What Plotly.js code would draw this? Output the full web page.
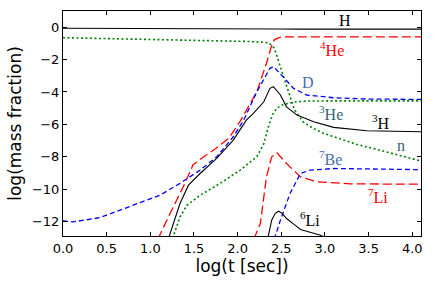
<!DOCTYPE html>
<html>
<head>
<meta charset="utf-8">
<script src="https://cdn.plot.ly/plotly-3.0.1.min.js"></script>
<style>html,body{margin:0;padding:0;background:#fff;}#chart{width:436px;height:285px;}</style>
</head>
<body>
<div id="chart"></div>
<script>
// log(t [sec]) and log(mass fraction)
var hX   = [0, 0.5, 1.0, 1.5, 2.0, 2.3, 2.4, 2.5, 2.7, 3.0, 3.5, 4.1];
var hY   = [-0.07, -0.07, -0.08, -0.08, -0.08, -0.08, -0.09, -0.11, -0.12, -0.12, -0.12, -0.12];

var nX   = [0, 0.5, 1.0, 1.5, 1.8, 2.1, 2.3, 2.36, 2.42, 2.49, 2.57, 2.65, 2.75, 2.85, 2.98, 3.17, 3.37, 3.63, 3.86, 4.1];
var nY   = [-0.65, -0.7, -0.75, -0.8, -0.85, -0.88, -0.93, -0.98, -1.3, -2.44, -3.88, -5.1, -5.85, -6.2, -6.55, -6.9, -7.25, -7.6, -7.95, -8.27];

var he3X = [1.255, 1.34, 1.42, 1.57, 1.8, 2.03, 2.22, 2.3, 2.35, 2.4, 2.45, 2.52, 2.65, 2.8, 3.2, 3.6, 4.1];
var he3Y = [-13.05, -11.72, -11.0, -10.38, -9.65, -8.83, -8.0, -7.2, -6.2, -5.4, -5.0, -4.78, -4.62, -4.56, -4.55, -4.55, -4.55];

var he4X = [1.09, 1.104, 1.226, 1.377, 1.49, 1.6, 1.75, 1.9, 2.03, 2.12, 2.22, 2.33, 2.38, 2.42, 2.47, 2.55, 2.7, 4.1];
var he4Y = [-13.1, -12.9, -11.51, -9.86, -8.5, -8.05, -7.5, -6.85, -5.8, -4.95, -3.99, -2.23, -1.3, -0.78, -0.65, -0.6, -0.6, -0.6];

var dX   = [0, 0.115, 0.42, 0.65, 0.8, 1.11, 1.34, 1.57, 1.76, 1.95, 2.07, 2.22, 2.37, 2.41, 2.52, 2.64, 2.79, 3.1, 3.48, 4.1];
var dY   = [-11.97, -12.03, -11.77, -11.3, -11.0, -10.38, -9.65, -8.83, -8.01, -6.77, -5.74, -3.99, -2.54, -2.44, -3.06, -3.78, -4.19, -4.36, -4.44, -4.46];

var h3X  = [1.205, 1.217, 1.34, 1.437, 1.57, 1.76, 1.95, 2.1, 2.18, 2.3, 2.37, 2.41, 2.49, 2.56, 2.68, 2.87, 3.1, 3.48, 4.1];
var h3Y  = [-13.1, -12.91, -10.89, -9.76, -9.04, -8.11, -6.98, -5.74, -5.32, -4.61, -3.78, -3.68, -4.19, -4.92, -5.43, -5.84, -6.19, -6.4, -6.46];

var li7X = [2.19, 2.2, 2.26, 2.33, 2.39, 2.45, 2.56, 2.72, 2.91, 3.29, 4.1];
var li7Y = [-13.1, -12.91, -12.13, -9.25, -8.01, -7.76, -8.42, -9.25, -9.55, -9.68, -9.7];

var be7X = [2.42, 2.43, 2.49, 2.6, 2.72, 2.83, 3.1, 4.1];
var be7Y = [-13.1, -12.91, -11.92, -10.27, -9.04, -8.83, -8.73, -8.8];

var li6X = [2.34, 2.35, 2.39, 2.43, 2.47, 2.51, 2.56, 2.65, 2.72, 2.85, 2.95, 3.0];
var li6Y = [-13.2, -12.9, -11.92, -11.5, -11.37, -11.5, -11.82, -12.2, -12.5, -12.7, -12.85, -13.0];

var labelText  = ['H', '<sup>4</sup>He', 'D', '<sup>3</sup>He', '<sup>3</sup>H', 'n', '<sup>7</sup>Be', '<sup>7</sup>Li', '<sup>6</sup>Li'];
var labelX     = [3.23, 3.08, 2.81, 3.07, 3.64, 3.87, 3.06, 3.61, 2.83];
var labelY     = [0.43, -1.35, -3.42, -5.28, -5.87, -7.3, -8.11, -10.43, -11.82];
var labelColor = ['#000000', '#ff0000', '#4a6eae', '#336474', '#000000', '#336474', '#4a6eae', '#ff0000', '#000000'];

var solid = {color: '#000000', width: 1.1};
function ln(color, dash, w) { return {color: color, dash: dash, width: w}; }

var traces = [
  {x: hX,   y: hY,   line: solid},
  {x: nX,   y: nY,   line: ln('#008000', '2px,2.5px', 1.6)},
  {x: he3X, y: he3Y, line: ln('#008000', '2px,2.5px', 1.6)},
  {x: he4X, y: he4Y, line: ln('#ff0000', '9px,4px', 1.3)},
  {x: dX,   y: dY,   line: ln('#0000ff', '5px,3px', 1.3)},
  {x: h3X,  y: h3Y,  line: solid},
  {x: li7X, y: li7Y, line: ln('#ff0000', '9px,4px', 1.3)},
  {x: be7X, y: be7Y, line: ln('#0000ff', '5px,3px', 1.3)},
  {x: li6X, y: li6Y, line: solid}
].map(function (t) { t.type = 'scatter'; t.mode = 'lines'; t.hoverinfo = 'skip'; return t; });

var annotations = labelText.map(function (txt, i) {
  return {x: labelX[i], y: labelY[i], xref: 'x', yref: 'y', text: txt, showarrow: false,
          xanchor: 'center', yanchor: 'middle',
          font: {family: 'Liberation Serif, DejaVu Serif, serif', size: 16, color: labelColor[i]}};
});

var axisCommon = {
  showgrid: false, zeroline: false, showline: true, linecolor: '#000', linewidth: 1,
  mirror: 'ticks', ticks: 'inside', ticklen: 4, tickwidth: 1, tickcolor: '#000',
  tickfont: {family: 'DejaVu Sans, sans-serif', size: 13, color: '#000'}
};

var layout = {
  width: 436, height: 285,
  margin: {l: 63, r: 15, t: 11, b: 49},
  paper_bgcolor: '#fff', plot_bgcolor: '#fff',
  showlegend: false,
  xaxis: Object.assign({}, axisCommon, {
    range: [0, 4.1], dtick: 0.5, tick0: 0, tickformat: '.1f',
    title: {text: 'log(t [sec])', standoff: 4, font: {family: 'DejaVu Sans, sans-serif', size: 17, color: '#000'}}
  }),
  yaxis: Object.assign({}, axisCommon, {
    range: [-12.9, 1], dtick: 2, tick0: 0,
    title: {text: 'log(mass fraction)', standoff: 6, font: {family: 'DejaVu Sans, sans-serif', size: 17, color: '#000'}}
  }),
  annotations: annotations
};

Plotly.newPlot('chart', traces, layout, {staticPlot: true, displayModeBar: false});
</script>
</body>
</html>
